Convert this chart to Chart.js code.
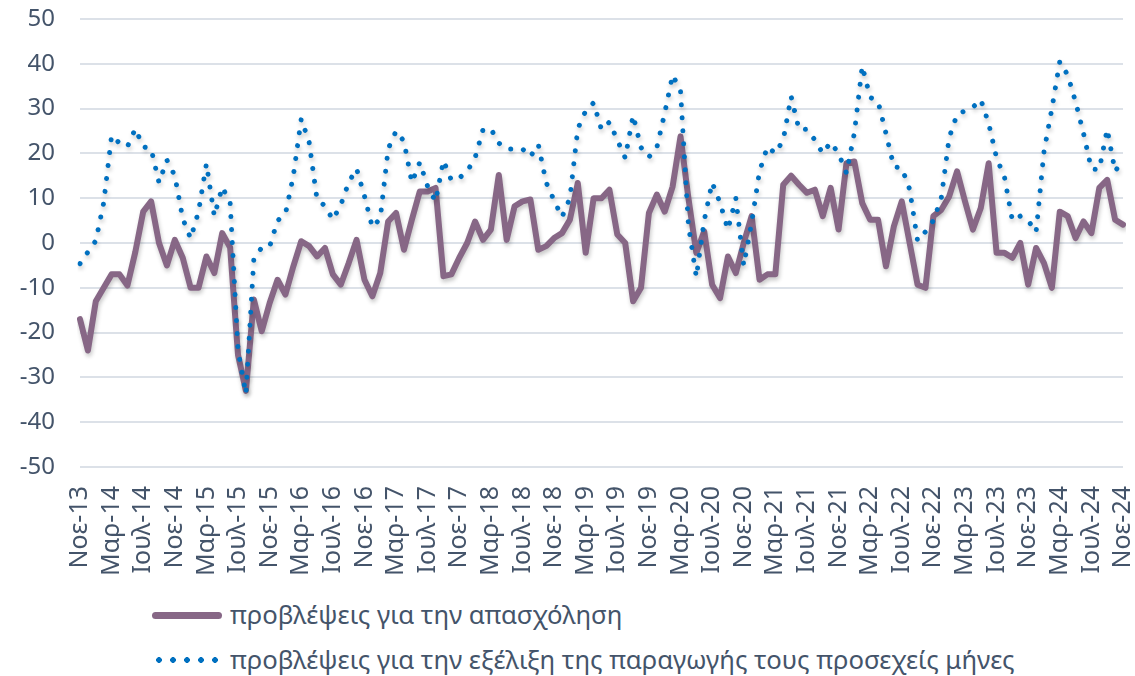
<!DOCTYPE html>
<html lang="el">
<head>
<meta charset="utf-8">
<script src="https://cdn.jsdelivr.net/npm/chart.js@4.4.1/dist/chart.umd.min.js"></script>
<style>
  html, body { margin: 0; padding: 0; background: #fff; }
  #wrap { position: relative; width: 1135px; height: 676px; font-family: "Noto Sans", sans-serif; color: #44546A; }
  #chartBox { position: absolute; left: 0; top: 0; width: 1135px; height: 594px; }
  .leg { position: absolute; left: 152px; display: flex; align-items: center; font-size: 25.7px; line-height: 34px; white-space: nowrap; }
  .solid { width: 70px; height: 7px; border-radius: 4px; background: #876786; margin-right: 8px; }
  .dots { width: 70px; height: 6px; margin-right: 8px;
          background: radial-gradient(circle, #0070C0 2.6px, transparent 3.1px) 0 0 / 14px 6px repeat-x; }
</style>
</head>
<body>
<div id="wrap">
  <div id="chartBox"><canvas id="empChart"></canvas></div>
  <div class="leg" style="top:598px"><span class="solid"></span><span>προβλέψεις για την απασχόληση</span></div>
  <div class="leg" style="top:643px"><span class="dots"></span><span>προβλέψεις για την εξέλιξη της παραγωγής τους προσεχείς μήνες</span></div>
</div>
<script>
const monthNames = ["Ιαν", "Φεβ", "Μαρ", "Απρ", "Μαϊ", "Ιουν", "Ιουλ", "Αυγ", "Σεπ", "Οκτ", "Νοε", "Δεκ"];
const firstMonth = 10;   // Νοε
const firstYear = 13;
const monthCount = 133;  // Νοε-13 .. Νοε-24

const seriesNames = [
    "προβλέψεις για την απασχόληση",
    "προβλέψεις για την εξέλιξη της παραγωγής τους προσεχείς μήνες"
];

// employment expectations (solid)
const employment = [
    -17, -24, -13, -10, -7, -7, -9.5, -2, 7, 9.3, 0, -5, 0.7, -3.3, -10, -10,
    -3, -6.7, 2.2, -1, -25, -33, -12.6, -19.7, -13.4, -8.2, -11.5, -5.2, 0.4, -0.7, -3, -1.1,
    -7, -9.3, -4.5, 0.7, -8.2, -11.9, -6.7, 4.8, 6.7, -1.5, 5.2, 11.5, 11.5, 12.3, -7.4, -7,
    -3.3, 0, 4.8, 0.7, 3, 15.2, 0.7, 8.2, 9.3, 9.7, -1.5, -0.7, 1.1, 2.2, 5.2, 13.4,
    -2.2, 10, 10, 11.9, 1.9, 0, -13, -10, 6.7, 10.8, 7, 12.6, 23.8, 10, -2.2, 2.6,
    -9.3, -12.3, -3, -6.7, 0, 6, -8.2, -7, -7, 13, 15, 13, 11.2, 11.9, 6, 12.3,
    3, 17.8, 18.2, 8.9, 5.2, 5.2, -5.2, 3.7, 9.3, 0, -9.3, -10, 6, 7.4, 10.4, 16,
    9.3, 3, 7.8, 17.8, -2.2, -2.2, -3.3, 0, -9.3, -1.1, -4.5, -10, 7, 6, 1.1, 4.8,
    2.2, 12.3, 14.1, 5.2, 4.1
];

// production expectations for the coming months (dotted)
const production = [
    -4.6, -2, 0.5, 9, 24, 22.3, 21.5, 25.5, 21.5, 21, 13.5, 18.5, 15, 5.5, 1, 7,
    17.7, 6, 12.5, 9, -24, -33.7, -3.5, -1, -0.8, 5, 6.5, 15, 27.7, 22.5, 9.7, 8.3,
    5.2, 8.5, 13.5, 16.6, 10.5, 3.5, 5.5, 21, 25, 22.7, 13.5, 18, 12.6, 9.3, 18.4, 14,
    14.5, 16, 19, 25.3, 25.5, 22.3, 21, 21, 21, 19.3, 22, 13.5, 9.5, 5.8, 10, 25.5,
    29.5, 31.3, 25.3, 27, 23, 19, 28.5, 21.3, 19.2, 21.3, 29, 37.5, 34, 4, -7.6, 5,
    13.5, 9, 3, 10, -5, 4.5, 16, 21.5, 20, 23, 32.7, 25.3, 25.4, 23, 20, 22.5,
    20, 15.6, 24.5, 39.5, 32.5, 31.6, 24.5, 17, 16.8, 12, 0.5, 2.5, 5, 10, 23.5, 28.7,
    29.5, 30.3, 32, 26.7, 19, 14.7, 5, 6, 5, 2.4, 20.4, 30, 40.5, 37.5, 31.5, 24.5,
    16.5, 16.4, 25.4, 16, 18.5
];

const yMin = -50;
const yMax = 50;
const yStep = 10;
const labelEvery = 4;

const labels = [];
for (let i = 0; i < monthCount; i++) {
    const m = (firstMonth + i) % 12;
    const y = firstYear + Math.floor((firstMonth + i) / 12);
    labels.push(monthNames[m] + "-" + y);
}

const textColor = "#44546A";
const gridColor = "#DCE1E8";

// soft shadow under the lines, like the original
const shadowPlugin = {
    id: "lineShadow",
    beforeDatasetsDraw(chart) {
        const ctx = chart.ctx;
        ctx.save();
        ctx.shadowColor = "rgba(0,0,0,0.22)";
        ctx.shadowBlur = 4;
        ctx.shadowOffsetX = 1;
        ctx.shadowOffsetY = 3;
    },
    afterDatasetsDraw(chart) {
        chart.ctx.restore();
    }
};

let chart;

function initializeChart() {
    const ctx = document.getElementById("empChart").getContext("2d");
    chart = new Chart(ctx, {
        type: "line",
        data: {
            labels: labels,
            datasets: [
                {
                    label: seriesNames[0],
                    data: employment,
                    borderColor: "#876786",
                    borderWidth: 6,
                    pointRadius: 0,
                    tension: 0,
                    borderJoinStyle: "round",
                    borderCapStyle: "round",
                    fill: false,
                    order: 2
                },
                {
                    label: seriesNames[1],
                    data: production,
                    borderColor: "#0070C0",
                    borderWidth: 5,
                    borderDash: [0.01, 13],
                    borderCapStyle: "round",
                    pointRadius: 0,
                    tension: 0,
                    fill: false,
                    order: 1
                }
            ]
        },
        plugins: [shadowPlugin],
        options: {
            responsive: true,
            maintainAspectRatio: false,
            animation: false,
            layout: { padding: { top: 19, right: 0, left: 0, bottom: 0 } },
            plugins: {
                legend: { display: false },
                tooltip: { enabled: false }
            },
            scales: {
                x: {
                    offset: false,
                    grid: { display: false, drawTicks: false },
                    border: { display: false },
                    afterFit: scale => {
                        scale.height = 127;
                        scale.paddingLeft = 0;
                        scale.paddingRight = 12;
                        scale.paddingTop = 0;
                    },
                    ticks: {
                        autoSkip: false,
                        minRotation: 90,
                        maxRotation: 90,
                        padding: 19,
                        color: textColor,
                        font: { family: "Noto Sans", size: 25 },
                        callback: (val, i) => (i % labelEvery === 0 ? labels[i] : "")
                    }
                },
                y: {
                    min: yMin,
                    max: yMax,
                    grid: { color: gridColor, lineWidth: 2, drawTicks: false },
                    border: { display: false },
                    afterFit: scale => {
                        scale.width = 80;
                        scale.paddingTop = 0;
                        scale.paddingBottom = 0;
                    },
                    ticks: {
                        stepSize: yStep,
                        padding: 25,
                        color: textColor,
                        font: { family: "Noto Sans", size: 24 }
                    }
                }
            }
        }
    });
}

window.onload = () => {
    initializeChart();
};
</script>
</body>
</html>
